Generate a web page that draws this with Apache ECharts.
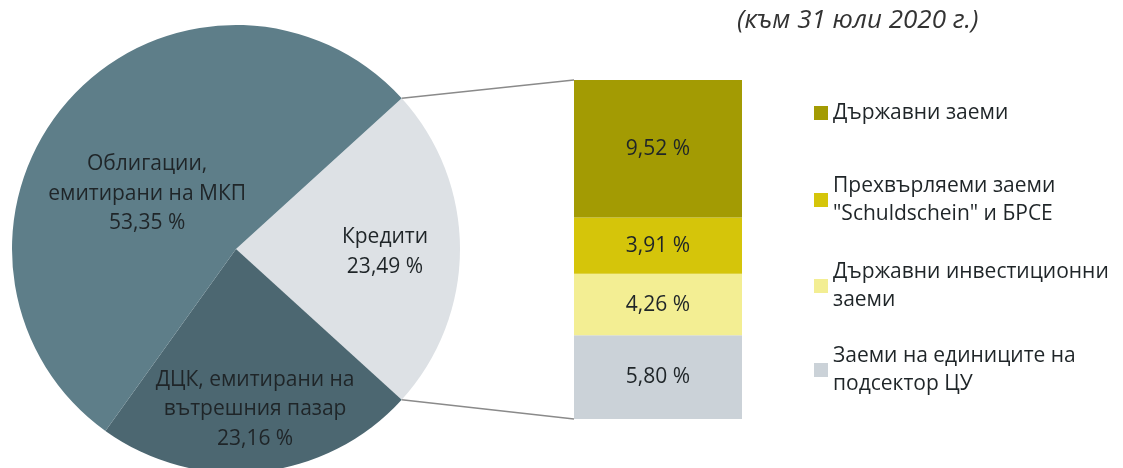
<!DOCTYPE html>
<html>
<head>
<meta charset="utf-8">
<script src="https://cdn.jsdelivr.net/npm/echarts@6/dist/echarts.min.js"></script>
<style>
  html, body { margin: 0; padding: 0; background: #fff; }
  #main { width: 1123px; height: 468px; }
</style>
</head>
<body>
<div id="main"></div>
<script>
// данни за кръговата диаграма
var pieNames = ['Кредити', 'ДЦК, емитирани на\nвътрешния пазар', 'Облигации,\nемитирани на МКП'];
var pieValues = [23.49, 23.16, 53.35];
var pieColors = ['#dde1e5', '#4c6771', '#5e7e89'];

// разбивка на кредитите (отдолу нагоре)
var subNames = ['Заеми на единиците на\nподсектор ЦУ', 'Държавни инвестиционни\nзаеми', 'Прехвърляеми заеми\n"Schuldschein" и БРСЕ', 'Държавни заеми'];
var subValues = [5.80, 4.26, 3.91, 9.52];
var subColors = ['#cbd2d8', '#f3ee93', '#d5c50a', '#a39b03'];

var titleText = '(към 31 юли 2020 г.)';

var FONT = 'Open Sans';
var FONT_SIZE = 21;
var TEXT_COLOR = '#1f2528';
var pieCenter = [236, 249];
var pieRadius = 224;
var barGrid = { left: 574, top: 80, width: 168, height: 339 };

function fmt(v) {
    return v.toFixed(2).replace('.', ',') + ' %';
}

var creditsTotal = subValues.reduce(function (a, b) { return a + b; }, 0);
var halfAngle = pieValues[0] / 100 * 360 / 2;

// отместване на етикетите в кръга
var labelShift = [[34, 3], [7, 46], [-3, 21]];

var series = [{
    type: 'pie',
    center: pieCenter,
    radius: pieRadius,
    startAngle: halfAngle,
    silent: true,
    itemStyle: { borderWidth: 0 },
    label: {
        position: 'inside',
        fontFamily: FONT,
        fontSize: FONT_SIZE,
        lineHeight: 29.5,
        color: TEXT_COLOR,
        formatter: function (p) { return p.name + '\n' + fmt(p.value); }
    },
    labelLine: { show: false },
    labelLayout: function (p) {
        var s = labelShift[p.dataIndex];
        return { dx: s[0], dy: s[1] };
    },
    data: pieNames.map(function (n, i) {
        return { name: n, value: pieValues[i], itemStyle: { color: pieColors[i] } };
    })
}];

for (var i = 0; i < subNames.length; i++) {
    series.push({
        type: 'bar',
        name: subNames[i],
        stack: 'credits',
        barWidth: '100%',
        silent: true,
        itemStyle: { color: subColors[i] },
        label: {
            show: true,
            position: 'inside',
            fontFamily: FONT,
            fontSize: FONT_SIZE,
            color: TEXT_COLOR,
            formatter: function (p) { return fmt(p.value); }
        },
        data: [subValues[i]]
    });
}

// легенда - по един компонент за всеки ред
var legendTops = [113, 200, 286, 370];
var legends = [];
for (var k = 0; k < subNames.length; k++) {
    var name = subNames[subNames.length - 1 - k];
    var lines = name.split('\n').length;
    var lh = 28.5;
    legends.push({
        data: [name],
        left: 814,
        top: legendTops[k] - lh / 2 - (lines - 1) * lh,
        icon: 'rect',
        itemWidth: 14,
        itemHeight: 14,
        padding: 0,
        selectedMode: false,
        textStyle: {
            fontFamily: FONT,
            fontSize: FONT_SIZE,
            lineHeight: lh,
            color: TEXT_COLOR,
            padding: [(lines - 1) * lh, 0, 0, 0]
        }
    });
}

// свързващи линии от кръга към стълба
var rad = halfAngle * Math.PI / 180;
var px = pieCenter[0] + pieRadius * Math.cos(rad);
var pyUp = pieCenter[1] - pieRadius * Math.sin(rad);
var pyDown = pieCenter[1] + pieRadius * Math.sin(rad);
var lineStyle = { stroke: '#8a8a8a', lineWidth: 1.5 };

var chart = echarts.init(document.getElementById('main'));
chart.setOption({
    animation: false,
    title: {
        text: titleText,
        left: 737,
        top: 8,
        padding: 0,
        textStyle: {
            fontFamily: FONT,
            fontStyle: 'italic',
            fontWeight: 'normal',
            fontSize: 26,
            color: '#333'
        }
    },
    legend: legends,
    grid: barGrid,
    xAxis: { type: 'category', data: ['Кредити'], show: false },
    yAxis: { type: 'value', min: 0, max: creditsTotal, show: false },
    graphic: [
        { type: 'line', silent: true, shape: { x1: px, y1: pyUp, x2: barGrid.left, y2: barGrid.top }, style: lineStyle },
        { type: 'line', silent: true, shape: { x1: px, y1: pyDown, x2: barGrid.left, y2: barGrid.top + barGrid.height }, style: lineStyle }
    ],
    series: series
});

window.addEventListener('resize', function () {
    chart.resize();
});
</script>
</body>
</html>
